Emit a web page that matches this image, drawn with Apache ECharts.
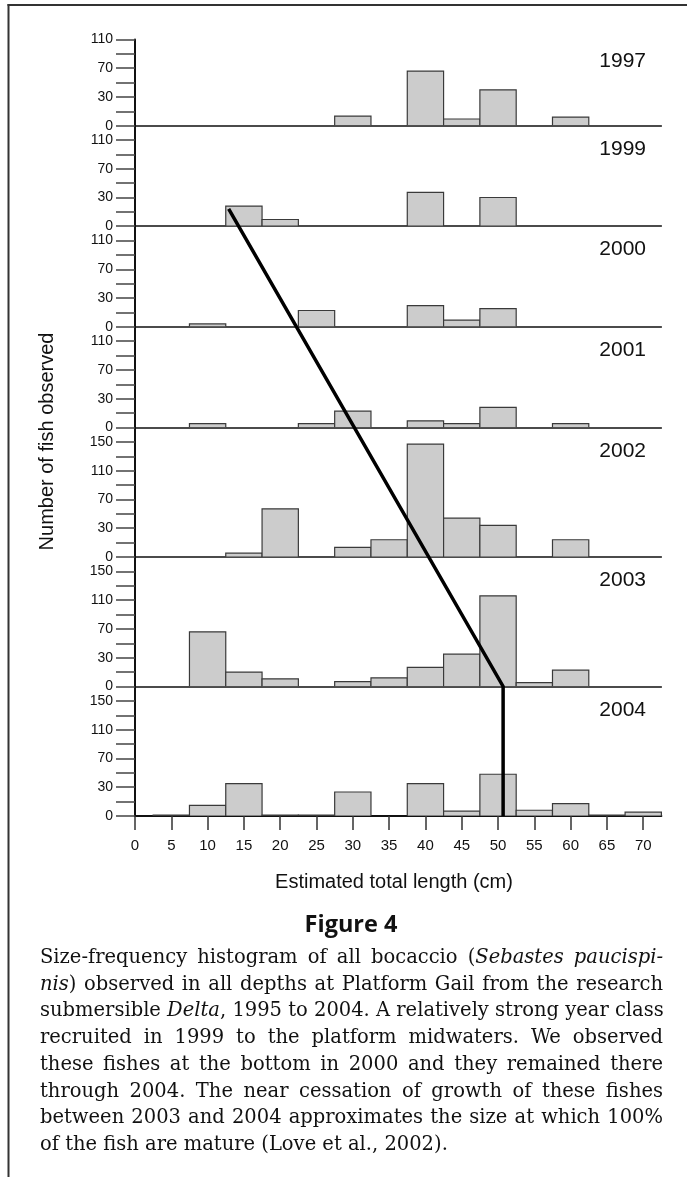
<!DOCTYPE html>
<html>
<head>
<meta charset="utf-8">
<script src="https://cdn.jsdelivr.net/npm/echarts@6/dist/echarts.min.js"></script>
<style>
html,body{margin:0;padding:0;background:#fff;}
#wrap{position:relative;width:687px;height:1177px;overflow:hidden;background:#fff;}
#chart{position:absolute;left:0;top:0;width:687px;height:1177px;}
#caption{position:absolute;left:40px;top:944px;width:623px;font-family:"DejaVu Serif",serif;font-size:19.5px;line-height:26.7px;color:#111;}
#caption div{text-align:justify;text-align-last:justify;white-space:nowrap;}
#caption div.last{text-align-last:left;}
</style>
</head>
<body>
<div id="wrap">
<div id="chart"></div>
<div id="caption">
<div>Size-frequency histogram of all bocaccio (<i>Sebastes paucispi-</i></div>
<div><i>nis</i>) observed in all depths at Platform Gail from the research</div>
<div>submersible <i>Delta</i>, 1995 to 2004. A relatively strong year class</div>
<div>recruited in 1999 to the platform midwaters. We observed</div>
<div>these fishes at the bottom in 2000 and they remained there</div>
<div>through 2004. The near cessation of growth of these fishes</div>
<div>between 2003 and 2004 approximates the size at which 100%</div>
<div class="last">of the fish are mature (Love et al., 2002).</div>
</div>
</div>
<script>
// ---- data ----
const xBins = [0, 5, 10, 15, 20, 25, 30, 35, 40, 45, 50, 55, 60, 65, 70];
const years = ['1997', '1999', '2000', '2001', '2002', '2003', '2004'];
const n1997 = [0, 0, 0, 0, 0, 0, 10, 0, 66, 7, 40, 0, 9, 0, 0];
const n1999 = [0, 0, 0, 21, 7, 0, 0, 0, 37, 0, 30, 0, 0, 0, 0];
const n2000 = [0, 0, 3, 0, 0, 17, 0, 0, 22, 7, 19, 0, 0, 0, 0];
const n2001 = [0, 0, 4, 0, 0, 4, 17, 0, 7, 4, 21, 0, 4, 0, 0];
const n2002 = [0, 0, 0, 4, 57, 0, 10, 18, 147, 44, 34, 0, 18, 0, 0];
const n2003 = [0, 0, 66, 15, 8, 0, 5, 9, 20, 35, 116, 4, 17, 0, 0];
const n2004 = [0, 1, 11, 35, 1, 1, 25, 0, 35, 5, 48, 6, 13, 1, 4];
const yTickLabels = ['0', '30', '70', '110', '150'];
const xTickValues = [0, 5, 10, 15, 20, 25, 30, 35, 40, 45, 50, 55, 60, 65, 70];
// growth line (x in cm, y in fish count, panel index)
const growthX = [12.9, 50.7, 50.7];
const growthY = [18, 0, 0];
const growthPanel = [1, 5, 6];

// ---- layout / config ----
const counts = [n1997, n1999, n2000, n2001, n2002, n2003, n2004];
const binWidth = 5;
const panelEdges = [39.5, 125.7, 226.2, 326.8, 427.5, 557, 686.5, 816];
const panelMax = [120, 140, 140, 140, 180, 180, 180];
const tickStep = 40;
const sans = '"Liberation Sans", Arial, sans-serif';

// printed axis: labels 0,30,70,110,150 sit at evenly spaced positions
function toAxis(v) { return v <= 30 ? v * 40 / 30 : v + 10; }

const chart = echarts.init(document.getElementById('chart'), null, {renderer: 'canvas'});

const grids = [], xAxes = [], yAxes = [], series = [];
years.forEach((yr, i) => {
  const last = i === years.length - 1;
  grids.push({left: 135, right: 25.6, top: panelEdges[i], height: panelEdges[i + 1] - panelEdges[i], containLabel: false});
  xAxes.push({
    gridIndex: i, type: 'value', min: 0, max: 72.5, interval: 5,
    axisLine: {show: true, onZero: false, lineStyle: {color: '#111', width: last ? 2 : 1.5}},
    axisTick: {show: last, length: 14, customValues: xTickValues, lineStyle: {color: '#333', width: 1.5}},
    axisLabel: {show: last, customValues: xTickValues, margin: 22, fontSize: 15, color: '#111', fontFamily: sans},
    splitLine: {show: false}
  });
  yAxes.push({
    gridIndex: i, type: 'value', min: 0, max: panelMax[i], interval: 20,
    axisLine: {show: true, lineStyle: {color: '#111', width: 2}},
    axisTick: {show: true, length: 19, lineStyle: {color: '#444', width: 1.5}},
    axisLabel: {
      margin: 22, fontSize: 14, color: '#111', fontFamily: sans, showMaxLabel: true, showMinLabel: true,
      formatter: v => (v % tickStep === 0 && yTickLabels[v / tickStep] !== undefined) ? yTickLabels[v / tickStep] : ''
    },
    splitLine: {show: false}
  });
  series.push({
    type: 'custom', name: yr, xAxisIndex: i, yAxisIndex: i, clip: true, z: 3,
    data: xBins.map((x, j) => [x, counts[i][j]]).filter(d => d[1] > 0),
    renderItem: function (params, api) {
      const x = api.value(0), v = api.value(1);
      const a = api.coord([x - binWidth / 2, 0]);
      const b = api.coord([x + binWidth / 2, toAxis(v)]);
      return {
        type: 'rect',
        shape: {x: a[0], y: b[1], width: b[0] - a[0], height: a[1] - b[1]},
        style: {fill: '#cccccc', stroke: '#3a3a3a', lineWidth: 1.2}
      };
    }
  });
});

chart.setOption({
  animation: false,
  backgroundColor: '#fff',
  grid: grids, xAxis: xAxes, yAxis: yAxes, series: series
});

function txt(text, x, y, font, align, vAlign, rot) {
  return {
    type: 'text', x: x, y: y, rotation: rot || 0, z: 50,
    style: {text: text, font: font, fill: '#111', align: align, verticalAlign: vAlign, textAlign: align, textVerticalAlign: vAlign}
  };
}

const pts = growthX.map((x, k) => chart.convertToPixel({seriesIndex: growthPanel[k]}, [x, toAxis(growthY[k])]));
const els = [
  {type: 'line', shape: {x1: 7.5, y1: 5, x2: 687, y2: 5}, style: {stroke: '#333', lineWidth: 2}},
  {type: 'line', shape: {x1: 8.5, y1: 4, x2: 8.5, y2: 1177}, style: {stroke: '#333', lineWidth: 2}},
  {type: 'polyline', z: 100, shape: {points: pts}, style: {stroke: '#000', lineWidth: 3.5, fill: null, lineJoin: 'miter'}},
  txt('Number of fish observed', 47.8, 441.5, '20px ' + sans, 'center', 'middle', Math.PI / 2),
  txt('Estimated total length (cm)', 394, 882.7, '20px ' + sans, 'center', 'middle'),
  txt('Figure 4', 351, 925, 'bold 23.5px "Open Sans", sans-serif', 'center', 'middle')
];
years.forEach((yr, i) => {
  els.push(txt(yr, 646, panelEdges[i] + (i === 0 ? 22 : 23.5), '21px ' + sans, 'right', 'middle'));
});
chart.setOption({graphic: {elements: els}});
</script>
</body>
</html>
